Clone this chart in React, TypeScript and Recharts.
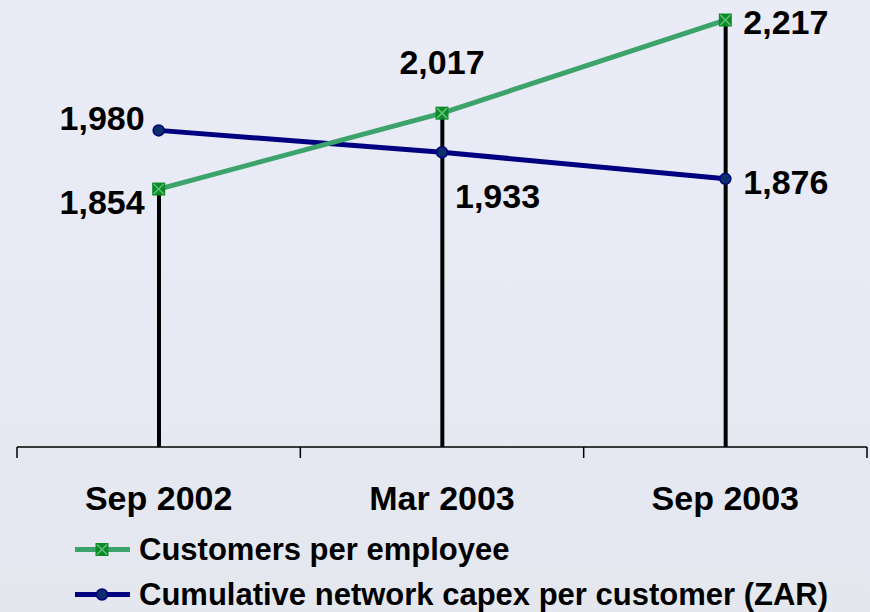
import { ComposedChart, Line, Bar, XAxis, YAxis, Legend, LabelList } from 'recharts';

const periods = ['Sep 2002', 'Mar 2003', 'Sep 2003'];
const customersPerEmployee = [1854, 2017, 2217];
const capexPerCustomer = [1980, 1933, 1876];
const seriesNames = ['Customers per employee', 'Cumulative network capex per customer (ZAR)'];

const data = periods.map((period, i) => ({
  period,
  customers: customersPerEmployee[i],
  capex: capexPerCustomer[i],
}));

const GREEN = '#3ca36a';
const NAVY = '#000080';
const FONT = '"Liberation Sans", Arial, sans-serif';

// where each value label sits relative to its point: dx, dy, anchor
const greenLabelPos: any[] = [[-14, 13, 'end'], [0, -51, 'middle'], [18, 2, 'start']];
const navyLabelPos: any[] = [[-14, -13, 'end'], [13, 44, 'start'], [18, 3, 'start']];

const makeLabel = (pos: any[]) => (props: any) => {
  const x = props.x ?? props.viewBox?.x;
  const y = props.y ?? props.viewBox?.y;
  const [dx, dy, anchor] = pos[props.index];
  return (
    <text x={x + dx} y={y + dy} dy="0.36em" textAnchor={anchor} fontSize={34} fontWeight="bold" fontFamily={FONT} fill="#000">
      {Number(props.value).toLocaleString('en-US')}
    </text>
  );
};

const SquareMark = ({ cx, cy }: any) => (
  <g>
    <rect x={cx - 6.5} y={cy - 6.5} width={13} height={13} fill="#0b8a25" />
    <path d={`M${cx - 5},${cy - 5}L${cx + 5},${cy + 5}M${cx + 5},${cy - 5}L${cx - 5},${cy + 5}`} stroke="#5fc07f" strokeWidth={1.5} />
  </g>
);

const RoundMark = ({ cx, cy }: any) => (
  <circle cx={cx} cy={cy} r={5.5} fill="#0b2f6b" stroke={NAVY} strokeWidth={1.5} />
);

// category label plus the tick marks on the category boundaries
const PeriodTick = ({ x, y, payload, index, width }: any) => {
  const band = width / periods.length;
  const left = x - band / 2;
  const right = x + band / 2;
  return (
    <g>
      <line x1={left} x2={left} y1={y} y2={y + 11} stroke="#000" strokeWidth={1.5} />
      {index === periods.length - 1 && <line x1={right} x2={right} y1={y} y2={y + 11} stroke="#000" strokeWidth={1.5} />}
      <text x={x} y={y + 63} textAnchor="middle" fontSize={34} fontWeight="bold" fontFamily={FONT} fill="#000">
        {payload.value}
      </text>
    </g>
  );
};

const renderLegend = () => (
  <div style={{ fontFamily: FONT, fontWeight: 'bold', fontSize: 31, height: 90, paddingTop: 5, boxSizing: 'border-box' }}>
    {seriesNames.map((name, i) => (
      <div key={name} style={{ display: 'flex', alignItems: 'center', height: 45 }}>
        <svg width={139} height={45}>
          <line x1={75} x2={130} y1={22.5} y2={22.5} stroke={i === 0 ? GREEN : NAVY} strokeWidth={5} />
          {i === 0 ? <SquareMark cx={102} cy={22.5} /> : <RoundMark cx={102} cy={22.5} />}
        </svg>
        <span style={{ lineHeight: '45px', color: '#000' }}>{name}</span>
      </div>
    ))}
  </div>
);

export default function App() {
  return (
    <div
      style={{
        position: 'absolute',
        left: 0,
        top: 0,
        width: 870,
        height: 612,
        background: 'linear-gradient(180deg, #e9ebf7 0%, #e7e9f3 60%, #e4e7ee 100%)',
      }}
    >
      <ComposedChart width={870} height={612} data={data} margin={{ top: 0, right: 3, left: 17, bottom: 0 }}>
        <XAxis
          dataKey="period"
          height={75}
          axisLine={{ stroke: '#000', strokeWidth: 1.5 }}
          tickLine={false}
          tickSize={0}
          tickMargin={0}
          tick={<PeriodTick />}
          interval={0}
        />
        <YAxis hide domain={[1300, 2260]} />
        <Legend
          verticalAlign="bottom"
          content={renderLegend}
          wrapperStyle={{ left: 0, bottom: 0, width: 870, height: 90 }}
        />
        <Bar dataKey="customers" barSize={4} fill="#000" isAnimationActive={false} legendType="none" />
        <Line
          dataKey="capex"
          name={seriesNames[1]}
          stroke={NAVY}
          strokeWidth={5}
          dot={<RoundMark />}
          activeDot={false}
          isAnimationActive={false}
        >
          <LabelList dataKey="capex" content={makeLabel(navyLabelPos)} />
        </Line>
        <Line
          dataKey="customers"
          name={seriesNames[0]}
          stroke={GREEN}
          strokeWidth={5}
          dot={<SquareMark />}
          activeDot={false}
          isAnimationActive={false}
        >
          <LabelList dataKey="customers" content={makeLabel(greenLabelPos)} />
        </Line>
      </ComposedChart>
    </div>
  );
}
